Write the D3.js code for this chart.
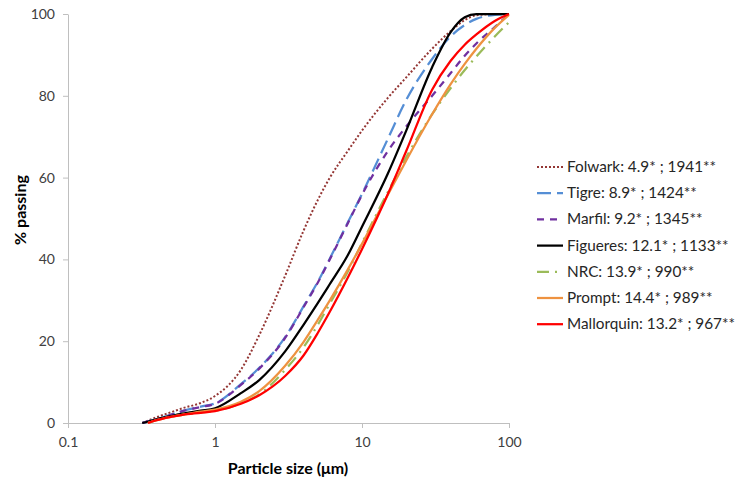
<!DOCTYPE html>
<html>
<head>
<meta charset="utf-8">
<script src="https://cdn.jsdelivr.net/npm/d3@7"></script>
<style>
  body { margin: 0; background: #fff; }
  text { font-family: Lato, "Open Sans", sans-serif; }
</style>
</head>
<body>
<svg id="chart" width="742" height="484"></svg>
<script>
// particle sizes (µm) shared by every curve, null = no reading
var sizes = [0.32, 0.35, 0.4, 0.5, 0.6, 0.8, 1, 1.5, 2, 3, 4, 5, 6, 8, 10, 15, 20, 30, 40, 50, 60, 80, 100];

var folwark    = [0, 0.6, 1.4, 2.6, 3.6, 4.9, 6.6, 13, 21.5, 36, 47, 54.5, 59.8, 66.5, 71.5, 79.5, 84.5, 91.5, 95.8, 98.5, 99.7, 100, null];
var tigre      = [0, 0.4, 0.9, 2.0, 2.9, 4.0, 4.8, 9.5, 13.5, 21, 28.5, 34.5, 40, 49, 56, 69.5, 79, 89, 94.5, 97.3, 98.8, 99.8, 100];
var marfil     = [0, 0.4, 0.9, 2.0, 2.9, 3.9, 4.7, 9.3, 13.3, 20.8, 28.3, 34.3, 39.8, 48.8, 55.8, 66.5, 72.5, 80, 85.5, 89.8, 92.8, 96.8, 100];
var figueres   = [0, 0.3, 0.9, 1.7, 2.3, 3.0, 3.6, 7.3, 10.5, 17.5, 24, 29.3, 33.8, 41, 48, 61, 71.5, 87, 95.5, 99.2, 100, 100, 100];
var nrc        = [null, 0, 0.7, 1.5, 2.0, 2.6, 3.0, 4.8, 7.0, 13, 18.5, 24, 29, 37, 44, 56.5, 65, 75.5, 81.8, 86.3, 89.6, 94.5, 98];
var prompt     = [null, 0, 0.7, 1.5, 2.0, 2.8, 3.3, 5.2, 7.8, 14.0, 19.8, 25.2, 29.8, 37.5, 43.8, 55.8, 64.2, 75.5, 82.8, 87.8, 91.5, 96.6, 99.8];
var mallorquin = [null, 0, 0.7, 1.5, 2.0, 2.5, 2.9, 4.7, 6.8, 11.5, 16.5, 22, 27, 35.5, 42.5, 56, 66.5, 81.5, 88.5, 92.5, 95, 98.3, 100];

var seriesNames = ["Folwark: 4.9* ; 1941**", "Tigre: 8.9* ; 1424**", "Marfil: 9.2* ; 1345**",
  "Figueres: 12.1* ; 1133**", "NRC: 13.9* ; 990**", "Prompt: 14.4* ; 989**", "Mallorquin: 13.2* ; 967**"];
var seriesValues = [folwark, tigre, marfil, figueres, nrc, prompt, mallorquin];
var seriesColors = ["#943634", "#558ED5", "#7030A0", "#000000", "#9BBB59", "#EE9240", "#FF0000"];
var seriesDash = ["2,2", "14,6", "7,6", null, "12,6,2,6", null, null];
var seriesWidth = [2, 2.25, 2.25, 2.25, 2.25, 2.25, 2.25];

var xTicks = [0.1, 1, 10, 100];
var yTicks = [0, 20, 40, 60, 80, 100];

var svg = d3.select("#chart");

var x = d3.scaleLog().domain([0.1, 100]).range([68, 509]);
var y = d3.scaleLinear().domain([0, 100]).range([423, 14]);

// ---- axes ----
var yAxis = svg.append("g")
  .attr("transform", "translate(68,0)")
  .call(d3.axisLeft(y).tickValues(yTicks).tickSize(5).tickPadding(8).tickSizeOuter(0));

var xAxis = svg.append("g")
  .attr("transform", "translate(0,423)")
  .call(d3.axisBottom(x).tickValues(xTicks).tickFormat(d3.format("")).tickSize(5).tickPadding(9).tickSizeOuter(0));

[yAxis, xAxis].forEach(function(ax) {
  ax.select(".domain").attr("stroke", "#BFBFBF").attr("stroke-width", 1);
  ax.selectAll(".tick line").attr("stroke", "#BFBFBF");
  ax.selectAll(".tick text")
    .attr("fill", "#404040")
    .style("font-size", "14px")
    .style("font-family", "Lato, sans-serif");
});

// axis titles
svg.append("text")
  .attr("x", 288).attr("y", 474)
  .attr("text-anchor", "middle")
  .style("font-size", "16px").style("font-weight", "bold")
  .text("Particle size (\u03BCm)");

svg.append("text")
  .attr("transform", "translate(26,210) rotate(-90)")
  .attr("text-anchor", "middle")
  .style("font-size", "16px").style("font-weight", "bold")
  .text("% passing");

// ---- curves ----
var line = d3.line()
  .defined(function(d) { return d[1] !== null; })
  .x(function(d) { return x(d[0]); })
  .y(function(d) { return y(d[1]); })
  .curve(d3.curveMonotoneX);

seriesValues.forEach(function(vals, i) {
  var pts = sizes.map(function(s, j) { return [s, vals[j]]; });
  svg.append("path")
    .datum(pts)
    .attr("d", line)
    .attr("fill", "none")
    .attr("stroke", seriesColors[i])
    .attr("stroke-width", seriesWidth[i])
    .attr("stroke-dasharray", seriesDash[i]);
});

// ---- legend ----
var legend = svg.append("g");
seriesNames.forEach(function(name, i) {
  var ly = 167 + i * 26.2;
  legend.append("line")
    .attr("x1", 537).attr("x2", 563)
    .attr("y1", ly).attr("y2", ly)
    .attr("stroke", seriesColors[i])
    .attr("stroke-width", seriesWidth[i])
    .attr("stroke-dasharray", seriesDash[i]);
  legend.append("text")
    .attr("x", 567).attr("y", ly + 5)
    .attr("fill", "#262626")
    .style("font-size", "15.3px")
    .text(name);
});
</script>
</body>
</html>
